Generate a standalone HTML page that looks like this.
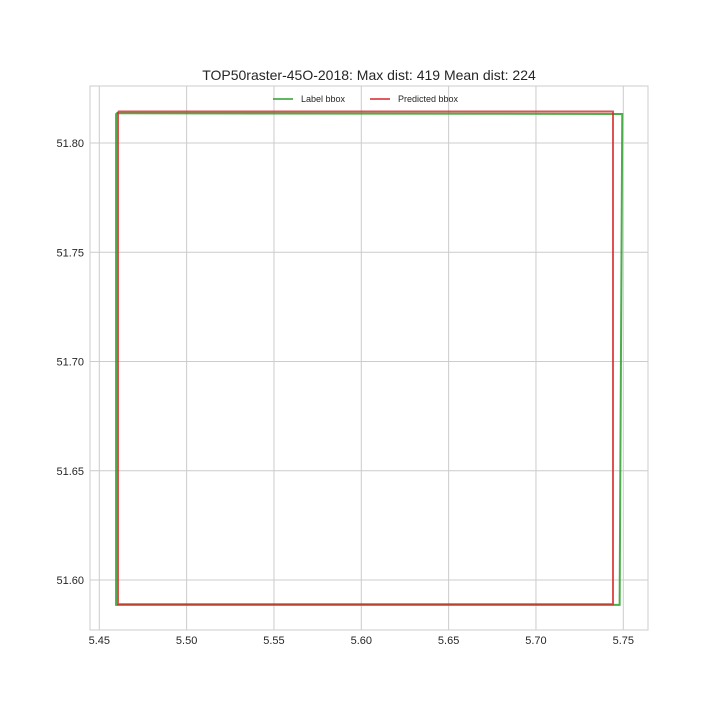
<!DOCTYPE html>
<html><head><meta charset="utf-8"><style>
body{margin:0;background:#fff;font-family:"Liberation Sans",Arial,sans-serif;}
svg text{font-family:"Liberation Sans",Arial,sans-serif;}
</style></head><body>
<svg id="chart" width="720" height="720">
<rect width="720" height="720" fill="#fff"/>
<text x="369" y="80" text-anchor="middle" font-size="14" fill="#262626">TOP50raster-45O-2018: Max dist: 419 Mean dist: 224</text>
<g id="grid"></g>
<g id="series"></g>
<rect x="90" y="86" width="558" height="544" fill="none" stroke="#ccc" stroke-width="1"/>
<g id="ticks"></g>
<g>
<line x1="273" y1="99" x2="293" y2="99" stroke="#2ca02c" stroke-width="1.5"/>
<text x="301" y="102" font-size="9" fill="#262626">Label bbox</text>
<line x1="370" y1="99" x2="390" y2="99" stroke="#d62728" stroke-width="1.5"/>
<text x="398" y="102" font-size="9" fill="#262626">Predicted bbox</text>
</g>
</svg>
<script>
const xTicks=[5.45,5.50,5.55,5.60,5.65,5.70,5.75];
const yTicks=[51.60,51.65,51.70,51.75,51.80];
const labelX=[5.4596,5.7494,5.7479,5.4596,5.4596];
const labelY=[51.8136,51.8133,51.5886,51.5886,51.8136];
const predX=[5.4607,5.7441,5.7441,5.4607,5.4607];
const predY=[51.8144,51.8144,51.5889,51.5889,51.8144];
const NS="http://www.w3.org/2000/svg";
function sx(v){return 99.3+(v-5.45)/0.30*524;}
function sy(v){return 143+(51.80-v)/0.20*437;}
const grid=document.getElementById('grid'),ticks=document.getElementById('ticks'),series=document.getElementById('series');
function mk(tag,attrs,parent){const e=document.createElementNS(NS,tag);for(const k in attrs)e.setAttribute(k,attrs[k]);parent.appendChild(e);return e;}
xTicks.forEach(t=>{const x=sx(t);
const g=mk('line',{x1:x,x2:x,y1:86,y2:630,stroke:'#ccc','stroke-width':1},grid);


const l=mk('text',{x:x,y:644,'text-anchor':'middle','font-size':11,fill:'#262626'},ticks);
l.textContent=t.toFixed(2);

});
yTicks.forEach(t=>{const y=sy(t);
const g=mk('line',{x1:90,x2:648,y1:y,y2:y,stroke:'#ccc','stroke-width':1},grid);


const l=mk('text',{x:84,y:y+4,'text-anchor':'end','font-size':11,fill:'#262626'},ticks);
l.textContent=t.toFixed(2);

});
function poly(xs,ys){return xs.map((v,i)=>sx(v)+','+sy(ys[i])).join(' ');}
const p1=mk('polyline',{points:poly(labelX,labelY),fill:'none',stroke:'#2ca02c','stroke-width':2,opacity:0.85},series);


const p2=mk('polyline',{points:poly(predX,predY),fill:'none',stroke:'#d62728','stroke-width':2,opacity:0.8},series);


</script>
</body></html>
